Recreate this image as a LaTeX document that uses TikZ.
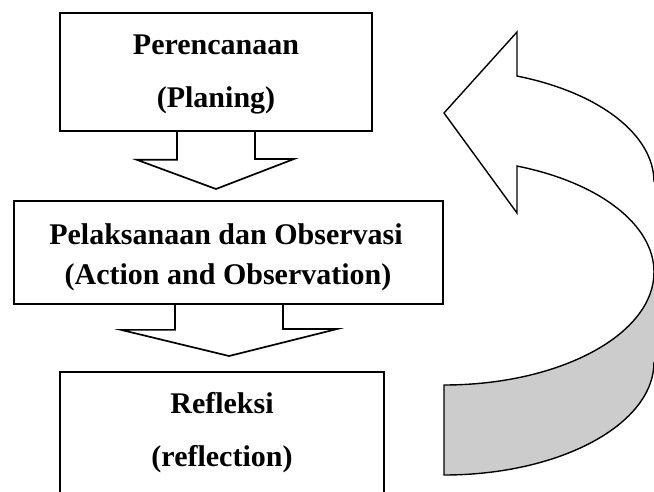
\documentclass[tikz,border=0pt]{standalone}
\usepackage{fontspec}
\setmainfont{Liberation Serif}
\usetikzlibrary{calc}
\definecolor{band}{HTML}{CCCCCC}
\begin{document}
\begin{tikzpicture}[x=1pt,y=1pt,
  box/.style={draw, line width=1.7pt, inner sep=0pt, rectangle},
  lbl/.style={font=\fontsize{30}{36}\selectfont\bfseries, anchor=base, inner sep=0pt},
  blk/.style={draw, line width=1.7pt, line join=miter},
  curv/.style={line width=1.4pt, line join=miter},
  ell/.style={x radius=210, y radius=113}]
\useasboundingbox (0,0) rectangle (654,491);
\clip (0,0) rectangle (654,491);
\fill[white] (0,0) rectangle (654,491);

% boxes
\node[box, minimum width=312pt, minimum height=118pt] (plan) at (216,419) {};
\node[box, minimum width=429pt, minimum height=103pt] (act) at (228.5,238.5) {};
\node[box, minimum width=324pt, minimum height=149pt] (refl) at (222,44.5) {};

% labels
\node[lbl] (t1a) at (216,436) {Perencanaan};
\node[lbl] (t1b) at (216,383) {(Planing)};
\node[lbl] (t2a) at (226,247) {Pelaksanaan dan Observasi};
\node[lbl] (t2b) at (228,207) {(Action and Observation)};
\node[lbl] (t3a) at (222,78) {Refleksi};
\node[lbl] (t3b) at (222,25) {(reflection)};

% block arrows
\draw[blk] ($(plan.south)+(-39,0)$) -- ++(0,-28) -- ++(-40,0)
  -- (216,302) -- (294,332) -- ++(-39,0) -- ($(plan.south)+(39,0)$);
\draw[blk] ($(act.south)+(-53.5,0)$) -- ++(0,-25) -- ++(-54,0)
  -- (229,135) -- (337,162) -- ++(-54,0) -- ($(act.south)+(54.5,0)$);

% curved arrow: shaded back band
\fill[band] (444,106) arc[start angle=270, end angle=360, ell]
  -- (654,129) arc[start angle=0, end angle=-90, ell] -- cycle;
\draw[curv] (654,219) arc[start angle=0, end angle=-90, ell]
  -- (444,16) arc[start angle=270, end angle=360, ell];

% curved arrow: front with head
\fill[white] (517,324.95) arc[start angle=69.66, end angle=0, ell]
  -- (654,309) arc[start angle=0, end angle=69.66, ell]
  -- (517,459) -- (444,378) -- (517,278) -- cycle;
\draw[curv] (654,219) arc[start angle=0, end angle=69.66, ell]
  -- (517,278) -- (444,378) -- (517,459) -- (517,414.95)
  arc[start angle=69.66, end angle=0, ell];
\end{tikzpicture}
\end{document}
